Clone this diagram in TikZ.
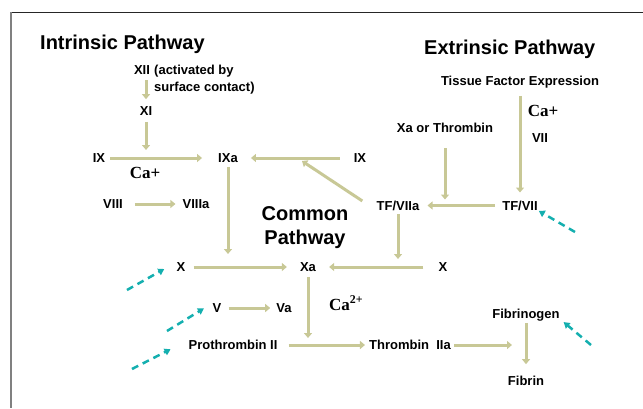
\documentclass[tikz,border=0pt]{standalone}
\usepackage{fontspec}
\setmainfont{Liberation Sans}
\newfontfamily\ionfont{Liberation Serif}
\usetikzlibrary{arrows.meta}
\definecolor{pathcol}{RGB}{200,200,150}
\definecolor{cuecol}{RGB}{20,175,175}
\tikzset{
	fac/.style={font=\fontsize{13}{15}\selectfont\bfseries, text height=9.3pt, text depth=0pt, inner sep=0pt},
	note/.style={font=\fontsize{13}{17}\selectfont\bfseries, inner sep=0pt, align=left},
	ttl/.style={font=\fontsize{20}{24.5}\selectfont\bfseries, inner sep=0pt},
	ion/.style={font=\fontsize{17}{19}\selectfont\ionfont\bfseries, inner sep=0pt},
	arr/.style={draw=pathcol, line width=3pt, -{Triangle[length=5pt,width=8pt]}},
	cue/.style={draw=cuecol, line width=2.5pt, dash pattern=on 7pt off 5pt, -{Triangle[length=6pt,width=7pt]}}
}

\begin{document}
\begin{tikzpicture}[x=1pt, y=-1pt]
			%%%%% START %%%%%
			\useasboundingbox (0,0) rectangle (643,408);
			
			\draw[line width=1pt, black!85] (11,12) -- (643,12);
			\draw[line width=2pt, black!50] (11,12) -- (11,408);
			
			\node[ttl, anchor=base west] (intr) at (40,49) {Intrinsic Pathway};
			\node[ttl, anchor=base west] (extr) at (424,54) {Extrinsic Pathway};
			\node[ttl, anchor=north, align=center] (common) at (305,206) {Common\\Pathway};
			
			\node[fac] (xii) at (142,69.5) {XII};
			\node[note, anchor=north west] (xiinote) at (154,64.5) {(activated by\\surface contact)};
			\node[fac] (xi) at (146,111) {XI};
			\node[fac] (ixl) at (99,158) {IX};
			\node[fac] (ixa) at (228,158) {IXa};
			\node[fac] (ixr) at (360,158) {IX};
			\node[ion] (caint) at (145,173) {Ca+};
			\node[fac] (viii) at (113,204) {VIII};
			\node[fac] (viiia) at (196,204) {VIIIa};
			
			\node[fac] (tfe) at (520,81) {Tissue Factor Expression};
			\node[fac] (xat) at (445,127.5) {Xa or Thrombin};
			\node[ion] (caext) at (543,111) {Ca+};
			\node[fac] (vii) at (540,138) {VII};
			\node[fac] (tfviia) at (398,205.5) {TF/VIIa};
			\node[fac] (tfvii) at (520,205.5) {TF/VII};
			
			\node[fac] (xl) at (181,267) {X};
			\node[fac] (xa) at (308,267) {Xa};
			\node[fac] (xr) at (443,267) {X};
			\node[ion, anchor=base west] (cacom) at (329,310) {Ca\textsuperscript{2+}};
			\node[fac] (v) at (217,308) {V};
			\node[fac] (va) at (284,308) {Va};
			\node[fac] (pro) at (233,345) {Prothrombin II};
			\node[fac] (thr) at (410,345) {Thrombin~~IIa};
			\node[fac] (fng) at (526,314) {Fibrinogen};
			\node[fac] (fib) at (526,381) {Fibrin};
			
			% intrinsic
			\draw[arr, shorten <=6pt, shorten >=7pt] (xii.south -| xi) -- (xi);
			\draw[arr, shorten <=6pt, shorten >=8pt] (xi) -- (xi |- ixl);
			\draw[arr, shorten <=5pt, shorten >=16pt] (ixl) -- (ixa);
			\draw[arr, shorten <=14pt, shorten >=13pt] (ixr) -- (ixa);
			\draw[arr, shorten <=4pt, shorten >=13pt] (ixa) -- (ixa |- xa);
			\draw[arr, shorten <=12pt, shorten >=7pt] (viii) -- (viiia);
			
			% extrinsic
			\draw[arr, shorten <=10pt, shorten >=13pt] (tfe) -- (tfe |- tfvii);
			\draw[arr, shorten <=16pt, shorten >=6pt] (xat) -- (xat |- tfvii);
			\draw[arr, shorten <=7pt, shorten >=8pt] (tfvii) -- (tfviia);
			\draw[arr, shorten <=4pt, shorten >=8pt] (tfviia) -- (tfviia |- xa);
			\coordinate (ixhit) at (302,161);
			\draw[arr, shorten <=17pt] (tfviia.south west) -- (ixhit);
			
			% common
			\draw[arr, shorten <=8pt, shorten >=13pt] (xl) -- (xa);
			\draw[arr, shorten <=15pt, shorten >=13pt] (xr) -- (xa);
			\draw[arr, shorten <=5pt, shorten >=7pt] (xa) -- (xa |- pro);
			\draw[arr, shorten <=7pt, shorten >=6pt] (v) -- (va);
			\draw[arr, shorten <=11pt, shorten >=4pt] (pro) -- (thr);
			\draw[arr, shorten <=3pt, shorten >=14pt] (thr) -- (thr -| fng);
			\draw[arr, shorten <=4pt, shorten >=12pt] (fng) -- (fib);
			
			% dashed cues
			\coordinate (cuex) at (127,290);
			\coordinate (cuev) at (167,331);
			\coordinate (cuepro) at (132,369);
			\coordinate (cuetf) at (575,232);
			\coordinate (cuefng) at (591,345);
			\draw[cue, shorten >=14pt] (cuex) -- (xl.north west);
			\draw[cue, shorten >=10pt] (cuev) -- (v.north west);
			\draw[cue, shorten >=20pt] (cuepro) -- (pro.north west);
			\draw[cue, shorten >=1pt] (cuetf) -- (tfvii.south east);
			\draw[cue, shorten >=5pt] (cuefng) -- (fng.south east);
			
			%%%%% END %%%%%
\end{tikzpicture}
\end{document}
